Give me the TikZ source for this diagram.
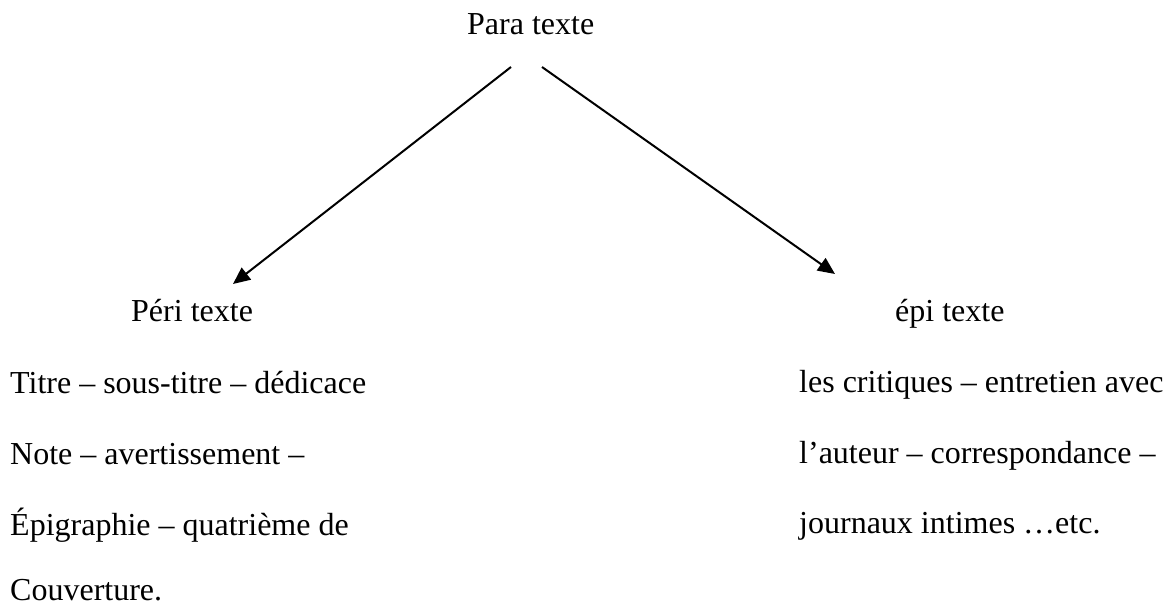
\documentclass[tikz,border=0pt]{standalone}
\usepackage{fontspec}
\setmainfont{Liberation Serif}
\usetikzlibrary{arrows.meta}

\begin{document}
\begin{tikzpicture}[x=1pt,y=-1pt,
  txt/.style={inner sep=0pt,anchor=base west,font=\fontsize{32}{38}\selectfont},
  pointer/.style={line width=2pt,-{Triangle[length=17pt,width=15pt]}}]
\useasboundingbox (0,0) rectangle (1170,607);
\node[txt] (para) at (467,35) {Para texte};
\node[txt] (peri) at (131,321) {Péri texte};
\node[txt] (epi) at (895,321) {épi texte};
\coordinate (para-l) at (511,67);
\coordinate (para-r) at (542,67);
\coordinate (peri-top) at (233,284);
\coordinate (epi-top) at (835,274);
\draw[pointer] (para-l) -- (peri-top);
\draw[pointer] (para-r) -- (epi-top);
% peri texte list
\node[txt] (peri1) at (10,393) {Titre – sous-titre – dédicace};
\node[txt] (peri2) at (10,464) {Note – avertissement –};
\node[txt] (peri3) at (10,535) {Épigraphie – quatrième de};
\node[txt] (peri4) at (10,600) {Couverture.};
% epi texte list
\node[txt] (epi1) at (799,392) {les critiques – entretien avec};
\node[txt] (epi2) at (799,463) {l’auteur – correspondance –};
\node[txt] (epi3) at (799,533) {journaux intimes …etc.};
\end{tikzpicture}
\end{document}
